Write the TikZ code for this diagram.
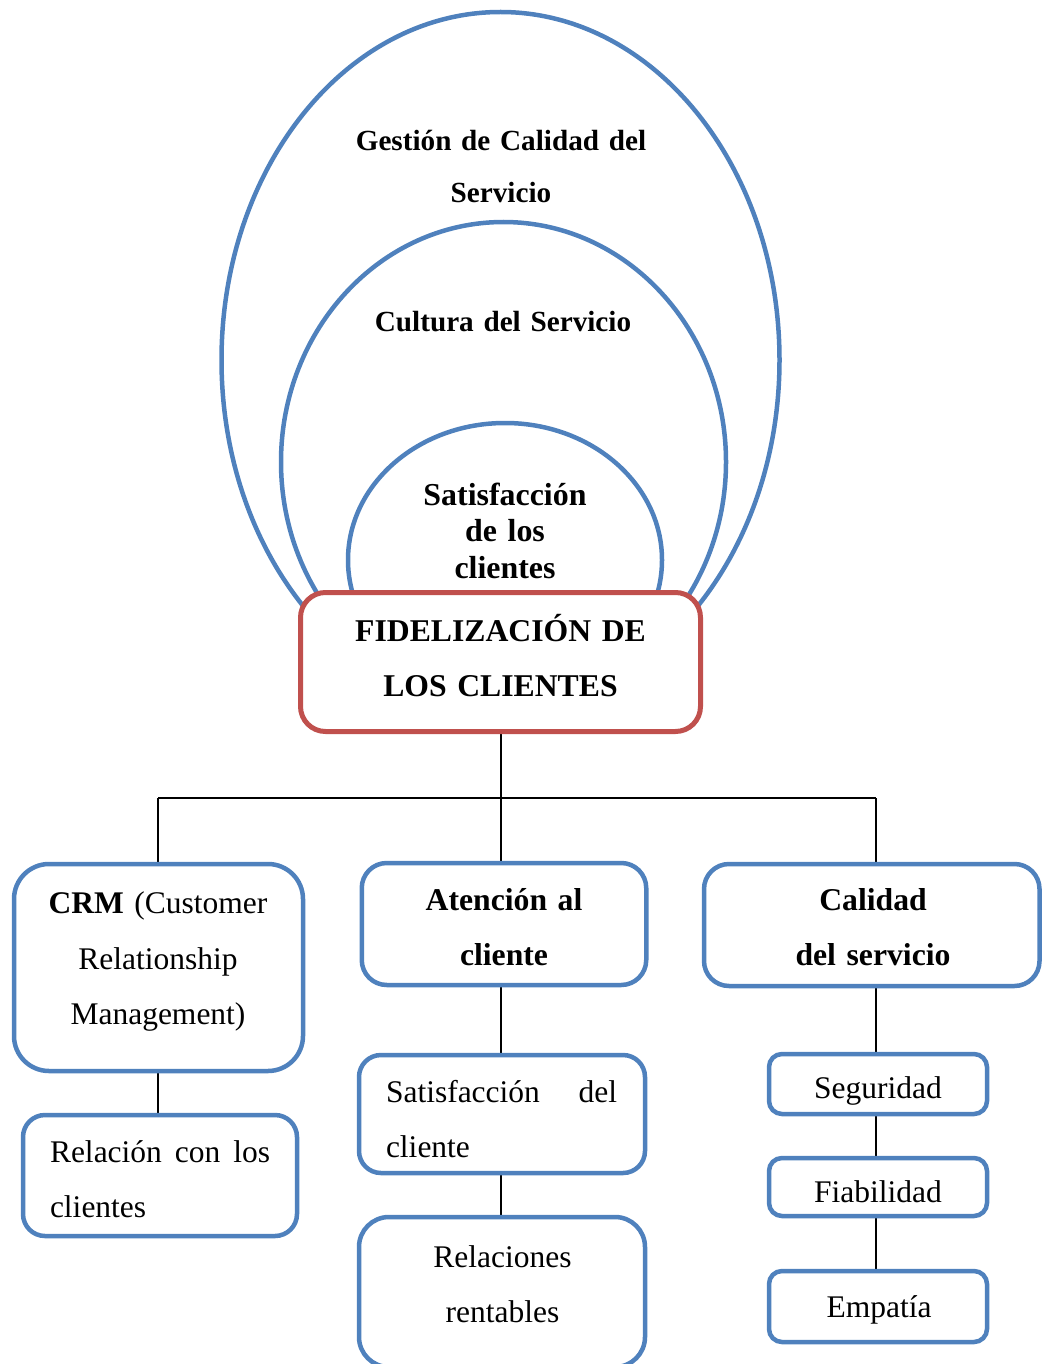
\documentclass[tikz,border=0pt]{standalone}
\usepackage{fontspec}
\setmainfont{Liberation Serif}
\usetikzlibrary{backgrounds}
\definecolor{boxblue}{HTML}{4F81BD}
\definecolor{boxred}{HTML}{C0504D}
\begin{document}
\begin{tikzpicture}[x=1pt,y=-1pt,
  ring/.style={draw=boxblue, line width=4.5pt},
  card/.style={draw=boxblue, line width=4.5pt, fill=white, rounded corners=#1, inner sep=0pt},
  card/.default=25pt,
  core/.style={draw=boxred, line width=5pt, fill=white, rounded corners=25pt, inner sep=0pt},
  link/.style={draw=black, line width=2pt},
  body/.style={font=\fontsize{31.5}{55}\selectfont, inner sep=0pt, anchor=base, text width=#1},
  body/.default=330pt,
  head/.style={font=\bfseries\fontsize{31.7}{55}\selectfont, inner sep=0pt, anchor=base, text width=330pt, align=center},
]
\useasboundingbox (0,0) rectangle (1043,1364);

% central box
\node[core, minimum width=400pt, minimum height=139pt] (fidel) at (500.5,662) {};

% boxes of the three branches
\node[card=35pt, minimum width=289pt, minimum height=207pt] (crm) at (158.5,967.5) {};
\node[card, minimum width=284.5pt, minimum height=122pt] (atencion) at (504,924) {};
\node[card, minimum width=335.5pt, minimum height=122pt] (calidad) at (871.75,925) {};
\node[card=22pt, minimum width=274pt, minimum height=121pt] (relacion) at (160,1175.5) {};
\node[card=22pt, minimum width=286pt, minimum height=118pt] (satcli) at (502,1114) {};
\node[card=30pt, minimum width=286pt, minimum height=150pt] (rentables) at (502,1292) {};
\node[card=13pt, minimum width=218pt, minimum height=60pt] (seguridad) at (878,1084) {};
\node[card=13pt, minimum width=218pt, minimum height=58pt] (fiabilidad) at (878,1187) {};
\node[card=13pt, minimum width=218pt, minimum height=71pt] (empatia) at (878,1306.5) {};

% bus coordinates of the tree
\coordinate (busL) at (158,798);
\coordinate (busR) at (876,798);

\begin{scope}[on background layer]
  % nested rings above the central box
  \draw[ring] (500.5,360) ellipse [x radius=279pt, y radius=348pt];
  \draw[ring] (503.5,462) ellipse [x radius=222.5pt, y radius=240pt];
  \draw[ring] (505,560) ellipse [x radius=157pt, y radius=137pt];
  % tree connectors
  \draw[link] (fidel.south) -- (fidel.south |- atencion.north);
  \draw[link] (busL) -- (busR);
  \draw[link] (busL) -- (busL |- crm.north);
  \draw[link] (busR) -- (busR |- calidad.north);
  \draw[link] (busL |- crm.south) -- (busL |- relacion.north);
  \draw[link] (fidel.south |- atencion.south) -- (fidel.south |- satcli.north);
  \draw[link] (fidel.south |- satcli.south) -- (fidel.south |- rentables.north);
  \draw[link] (busR |- calidad.south) -- (busR |- seguridad.north);
  \draw[link] (busR |- seguridad.south) -- (busR |- fiabilidad.north);
  \draw[link] (busR |- fiabilidad.south) -- (busR |- empatia.north);
\end{scope}

% ring labels
\node[head, font=\bfseries\fontsize{29.2}{52}\selectfont] (tGestion) at (501,151) {Gestión de Calidad del\\Servicio};
\node[head, font=\bfseries\fontsize{29.2}{52}\selectfont] (tCultura) at (503,331) {Cultura del Servicio};
\node[head, font=\bfseries\fontsize{31.9}{36.5}\selectfont] (tSatisf) at (505,505) {Satisfacción\\de los\\clientes};

% box labels
\node[head] (tFidel) at (500.5,641.5) {FIDELIZACIÓN DE\\LOS CLIENTES};
\node[body, align=center, font=\fontsize{31.5}{55.5}\selectfont] (tCrm) at (158,913.5) {\textbf{CRM} (Customer\\Relationship\\Management)};
\node[head] (tAtencion) at (504,910) {Atención al\\cliente};
\node[head] (tCalidad) at (873,910) {Calidad\\del servicio};
\node[body=220pt, align=left] (tRelacion) at (160,1162) {Relación\hfill con\hfill los\\clientes};
\node[body=231pt, align=left] (tSatcli) at (501.5,1102) {Satisfacción\hfill del\\cliente};
\node[body, align=center] (tRentables) at (502.5,1267) {Relaciones\\rentables};
\node[body, align=center] (tSeguridad) at (878,1098) {Seguridad};
\node[body, align=center] (tFiabilidad) at (878,1202) {Fiabilidad};
\node[body, align=center] (tEmpatia) at (879,1317) {Empatía};
\end{tikzpicture}
\end{document}
